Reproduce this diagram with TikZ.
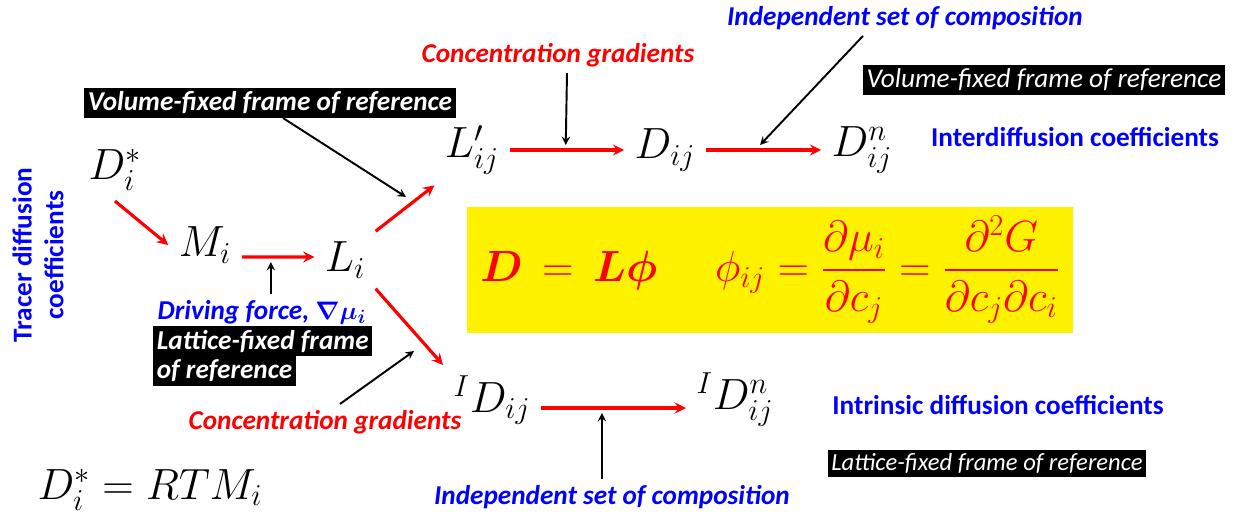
\documentclass[tikz,border=0pt]{standalone}
\usepackage{amsmath, amssymb, bm}
\usepackage{fontspec}
\setmainfont{Carlito}
\usetikzlibrary{arrows.meta}

\begin{document}
\begin{tikzpicture}[x=0.02cm, y=-0.02cm, >=stealth,
  coef/.style={inner sep=1pt, outer sep=5pt, font=\fontsize{25}{28}\selectfont},
  redlbl/.style={text=red, font=\fontsize{15.5}{18}\selectfont\bfseries\itshape},
  bluelbl/.style={text=blue, font=\fontsize{15.5}{18}\selectfont\bfseries\itshape},
  bluename/.style={text=blue, font=\fontsize{15.5}{18}\selectfont\bfseries},
  blkbox/.style={fill=black, text=white, inner sep=2pt},
  redarr/.style={->, red, line width=1.8pt},
  blkarr/.style={->, black, line width=1.1pt}]
  \useasboundingbox (0,0) rectangle (1236,523);

  \node[coef] (ds)  at (115,170) {$D_i^*$};
  \node[coef] (m)   at (205,245) {$M_i$};
  \node[coef] (li)  at (345,260) {$L_i$};
  \node[coef] (lp)  at (472,150) {$L'_{ij}$};
  \node[coef] (dij) at (665,150) {$D_{ij}$};
  \node[coef] (dn)  at (862,150) {$D_{ij}^{n}$};
  \node[coef] (idij) at (492,400) {${}^{I}D_{ij}$};
  \node[coef] (idn)  at (735,400) {${}^{I}D_{ij}^{n}$};
  \node[coef, font=\fontsize{27}{30}\selectfont] (rel) at (150,490) {$D_i^* = RTM_i$};

  \node[fill=yellow, minimum width=606*0.02cm, minimum height=125*0.02cm, text=red,
        font=\fontsize{26}{30}\selectfont] (box) at (770,270)
        {$\bm{D} \,=\, \bm{L\phi} \quad\; \phi_{ij} = \dfrac{\partial\mu_i}{\partial c_j} = \dfrac{\partial^2 G}{\partial c_j\partial c_i}$};

  \node[blkbox, font=\fontsize{15.5}{18}\selectfont\bfseries\itshape] (vol1) at (270,103) {Volume-fixed frame of reference};
  \node[blkbox, font=\fontsize{15.5}{18}\selectfont\itshape] (vol2) at (1044,80) {Volume-fixed frame of reference};
  \node[blkbox, font=\fontsize{15.5}{18}\selectfont\bfseries\itshape, anchor=north west] (lat1) at (153,326) {Lattice-fixed frame};
  \node[blkbox, font=\fontsize{15.5}{18}\selectfont\bfseries\itshape, anchor=north west] (lat2) at (lat1.south west) {of reference};
  \node[blkbox, font=\fontsize{14}{16}\selectfont\itshape] (lat3) at (987,463) {Lattice-fixed frame of reference};

  \node[redlbl] (conc1) at (558,55) {Concentration gradients};
  \node[redlbl] (conc2) at (325,422) {Concentration gradients};
  \node[bluelbl] (ind1) at (905,18) {Independent set of composition};
  \node[bluelbl] (ind2) at (612,497) {Independent set of composition};
  \node[bluelbl] (drive) at (262,312) {Driving force, $\bm{\nabla\mu_i}$};
  \node[bluename] (inter) at (1075,137) {Interdiffusion coefficients};
  \node[bluename] (intr) at (998,405) {Intrinsic diffusion coefficients};
  \node[bluename, rotate=90, align=center] (tracer) at (38,255) {Tracer diffusion\\coefficients};

  \coordinate (volend) at (406,197);
  \coordinate (concend) at (414,351);

  \draw[redarr] (ds.south) -- (m.west);
  \draw[redarr] ([yshift=-0.24cm]m.east) -- coordinate[pos=0.4] (cdrive) ([yshift=0.06cm]li.west);
  \draw[redarr] (li.north east) -- (lp.south west);
  \draw[redarr] (lp) -- coordinate[pos=0.49] (cconc) (dij);
  \draw[redarr] (dij) -- coordinate[pos=0.47] (cind) (dn);
  \draw[redarr] (li.south east) -- (idij.north west);
  \draw[redarr] ([yshift=-0.16cm]idij.east) -- coordinate[pos=0.42] (cind2) ([yshift=-0.16cm]idn.west);

  \draw[blkarr] ([xshift=0.26cm]vol1.south) -- (volend);
  \draw[blkarr] ([xshift=0.18cm]conc1.south) -- ([yshift=0.1cm]cconc);
  \draw[blkarr] ([xshift=-0.84cm]ind1.south) -- ([yshift=0.1cm]cind);
  \draw[blkarr] (drive.north -| cdrive) -- ([yshift=-0.1cm]cdrive);
  \draw[blkarr] ([xshift=0.3cm]conc2.north) -- (concend);
  \draw[blkarr] (ind2.north -| cind2) -- ([yshift=-0.1cm]cind2);
\end{tikzpicture}
\end{document}
